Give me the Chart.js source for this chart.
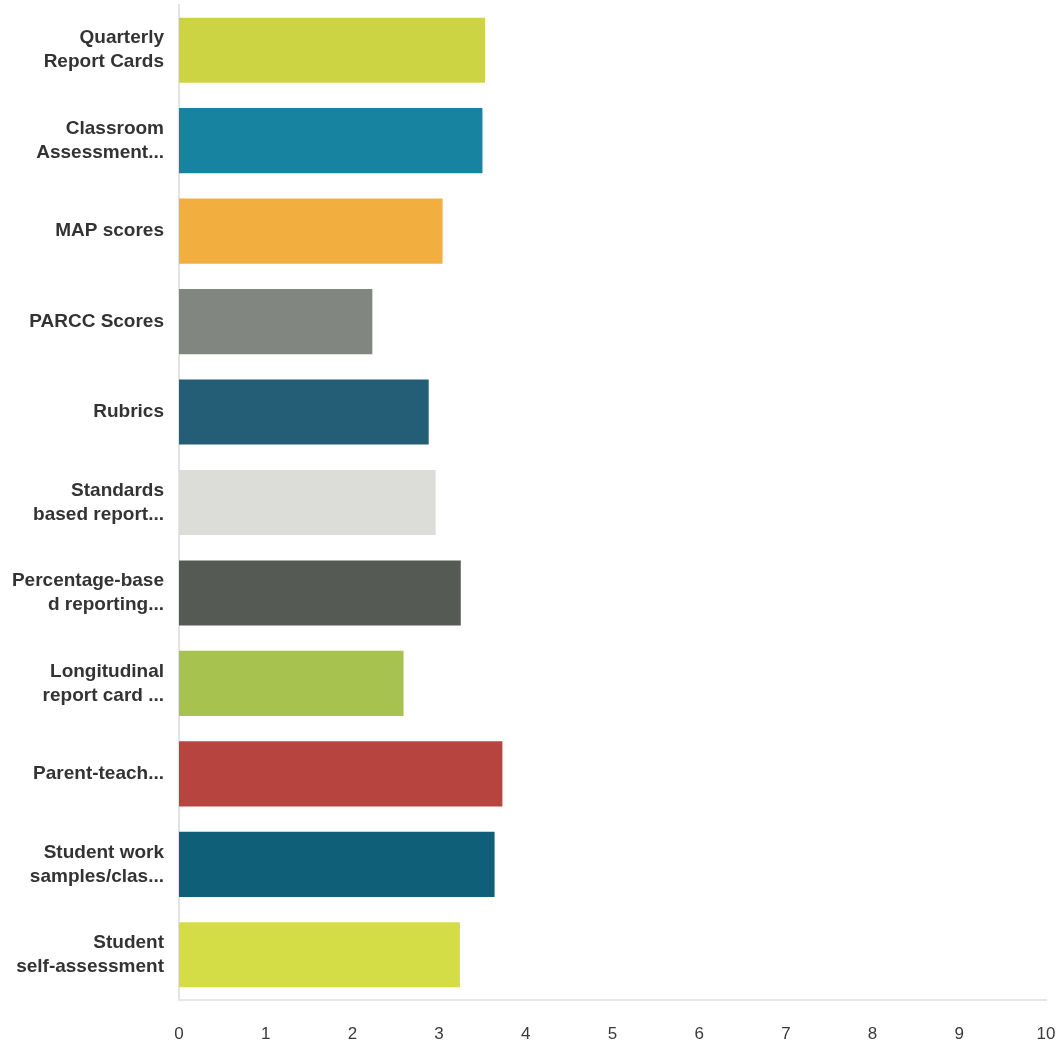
<!DOCTYPE html>
<html>
<head>
<meta charset="utf-8">
<title>Assessment tools – average rating</title>
<script src="https://cdn.jsdelivr.net/npm/chart.js@4/dist/chart.umd.min.js"></script>
<style>
  html, body { margin: 0; padding: 0; background: #ffffff; }
  #wrap { width: 1062px; height: 1046px; position: relative; }
</style>
</head>
<body>
<div id="wrap"><canvas id="chart" width="1062" height="1046"></canvas></div>
<script>
// Category labels (each entry is the lines of one wrapped label)
const categories = [
  ["Quarterly", "Report Cards"],
  ["Classroom", "Assessment..."],
  ["MAP scores"],
  ["PARCC Scores"],
  ["Rubrics"],
  ["Standards", "based report..."],
  ["Percentage-base", "d reporting..."],
  ["Longitudinal", "report card ..."],
  ["Parent-teach..."],
  ["Student work", "samples/clas..."],
  ["Student", "self-assessment"]
];

// Weighted average per item
const averages = [3.53, 3.50, 3.04, 2.23, 2.88, 2.96, 3.25, 2.59, 3.73, 3.64, 3.24];

// One fill per bar
const barColors = [
  "#cdd443", "#1883a1", "#f2ae3e", "#818680", "#235e76", "#dcdcd9",
  "#555b54", "#a8c24f", "#b8443f", "#0f5f78", "#d4dc46"
];

// Value axis tick range
const axisMin = 0;
const axisMax = 10;

new Chart(document.getElementById("chart"), {
  type: "bar",
  data: {
    labels: categories,
    datasets: [{
      data: averages,
      backgroundColor: barColors,
      borderWidth: 0,
      barPercentage: 0.72,
      categoryPercentage: 1.0
    }]
  },
  options: {
    indexAxis: "y",
    responsive: false,
    animation: false,
    layout: { padding: { top: 5, right: 16, left: 0, bottom: 0 } },
    plugins: {
      legend: { display: false },
      tooltip: { enabled: false }
    },
    scales: {
      y: {
        grid: { display: false, drawTicks: false },
        border: { display: true, color: "#e2e4e4", width: 2 },
        ticks: {
          color: "#333333",
          padding: 15,
          font: { family: "'Liberation Sans', Arial, sans-serif", size: 19, weight: "bold", lineHeight: 1.26 }
        },
        afterFit(scale) {
          scale.width = 179;
          scale.paddingTop = 0;
          scale.paddingBottom = 0;
        }
      },
      x: {
        min: axisMin,
        max: axisMax,
        grid: { display: false, drawTicks: false },
        border: { display: true, color: "#e6e8e8", width: 2 },
        ticks: {
          stepSize: 1,
          color: "#3a3a3a",
          padding: 24,
          font: { family: "'Liberation Sans', Arial, sans-serif", size: 17 }
        },
        afterFit(scale) {
          scale.height = 46;
          scale.paddingLeft = 0;
          scale.paddingRight = 0;
        }
      }
    }
  }
});
</script>
</body>
</html>
